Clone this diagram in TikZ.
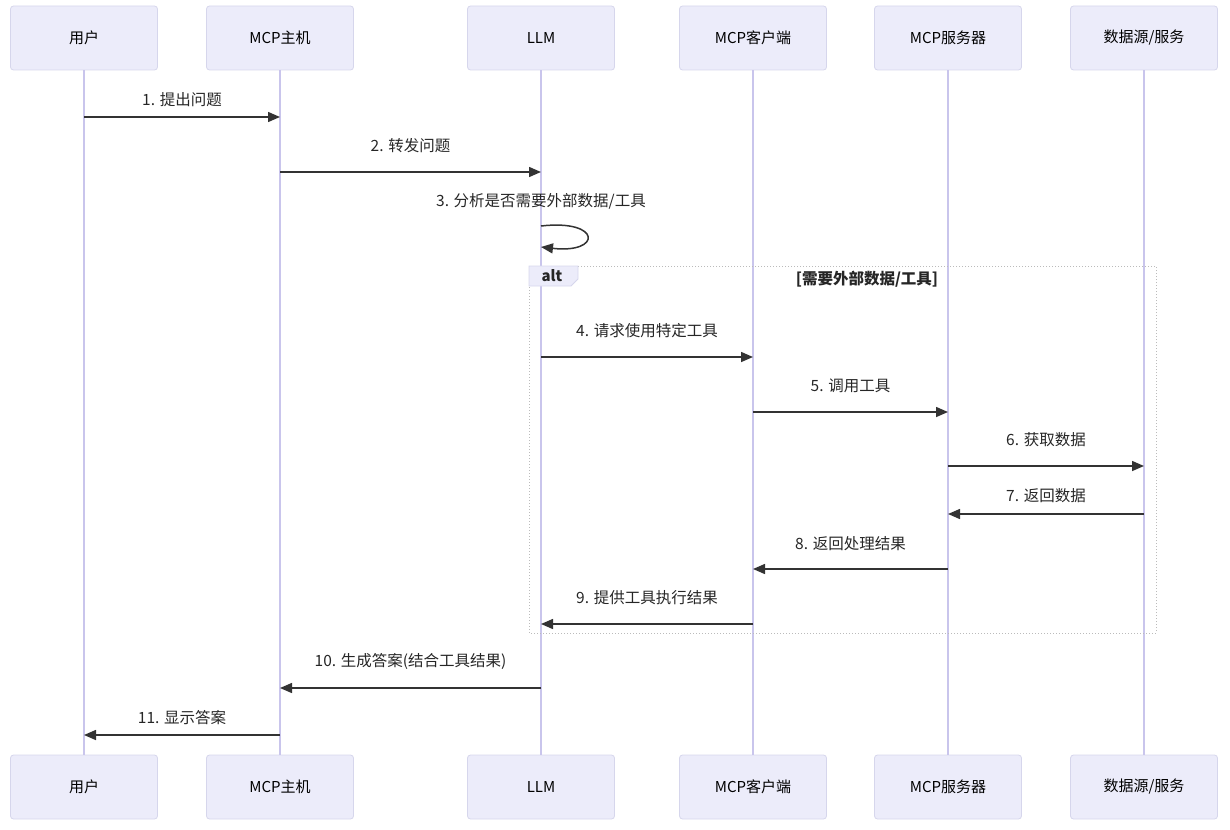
\documentclass[tikz,border=0pt]{standalone}
\usepackage{fontspec}
\setmainfont{Noto Sans CJK SC}
\usetikzlibrary{arrows.meta}
\definecolor{boxfill}{HTML}{ECECFA}
\definecolor{boxline}{HTML}{D6D6EC}
\definecolor{lifeline}{HTML}{C9C5EC}
\definecolor{msgcol}{HTML}{333333}
\definecolor{altline}{HTML}{BBBBBB}
\tikzset{
  actor/.style={draw=boxline, fill=boxfill, rounded corners=3pt, minimum width=147pt, minimum height=64pt, inner sep=0pt, font=\fontsize{15}{17}\selectfont, text=black, line width=0.8pt},
  life/.style={draw=lifeline, line width=1.4pt},
  msg/.style={draw=msgcol, line width=1.5pt, -{Triangle[length=12pt,width=10pt]}},
  lbl/.style={font=\fontsize{15.5}{17}\selectfont, text=black!85, inner sep=0pt},
  far/.style={midway, above=18pt},
  near/.style={midway, above=10pt},
}
\begin{document}
\begin{tikzpicture}[x=1pt,y=-1pt]
\useasboundingbox (0,0) rectangle (1230,829);
% actors top
\foreach \n/\x/\t in {u/84/{用户}, h/280/{MCP主机}, l/541/{LLM}, c/753/{MCP客户端}, s/948/{MCP服务器}, d/1144/{数据源/服务}}{
  \node[actor] (\n top) at (\x,38) {\t};
  \node[actor] (\n bot) at (\x,787) {\t};
}
% lifelines
\foreach \n in {u,h,l,c,s,d}{
  \draw[life] (\n top.south) -- (\n bot.north);
}
% alt frame
\draw[altline, line width=1pt, dotted] (529,266) rectangle (1156,633);
\node[lbl, font=\fontsize{15.5}{17}\selectfont\bfseries] (altcond) at (867,279) {[需要外部数据/工具]};
\path[draw=boxline, fill=boxfill, line width=0.8pt] (529,266) -- (578,266) -- (578,279) -- (571,286) -- (529,286) -- cycle;
\node[lbl, font=\fontsize{15}{17}\selectfont\bfseries] (alttab) at (552,276) {alt};
% message coordinates
\foreach \n/\x in {u/84, h/280, l/541, c/753, s/948, d/1144}{
  \foreach \k/\y in {1/117, 2/172, 4/357, 5/412, 6/466, 7/514, 8/569, 9/624, 10/688, 11/735}{
    \coordinate (\n\k) at (\x,\y);
  }
}
\draw[msg] (u1) -- (h1) node[lbl, near] {1. 提出问题};
\draw[msg] (h2) -- (l2) node[lbl, far] {2. 转发问题};
\coordinate (la) at (541,226);
\coordinate (lb) at (541,247);
\node[lbl] (m3) at (541,201) {3. 分析是否需要外部数据/工具};
\draw[msg] (la) .. controls (602,219) and (602,254) .. (lb);
\draw[msg] (l4) -- (c4) node[lbl, far] {4. 请求使用特定工具};
\draw[msg] (c5) -- (s5) node[lbl, far] {5. 调用工具};
\draw[msg] (s6) -- (d6) node[lbl, far] {6. 获取数据};
\draw[msg] (d7) -- (s7) node[lbl, near] {7. 返回数据};
\draw[msg] (s8) -- (c8) node[lbl, far] {8. 返回处理结果};
\draw[msg] (c9) -- (l9) node[lbl, far] {9. 提供工具执行结果};
\draw[msg] (l10) -- (h10) node[lbl, far] {10. 生成答案(结合工具结果)};
\draw[msg] (h11) -- (u11) node[lbl, near] {11. 显示答案};
\end{tikzpicture}
\end{document}
